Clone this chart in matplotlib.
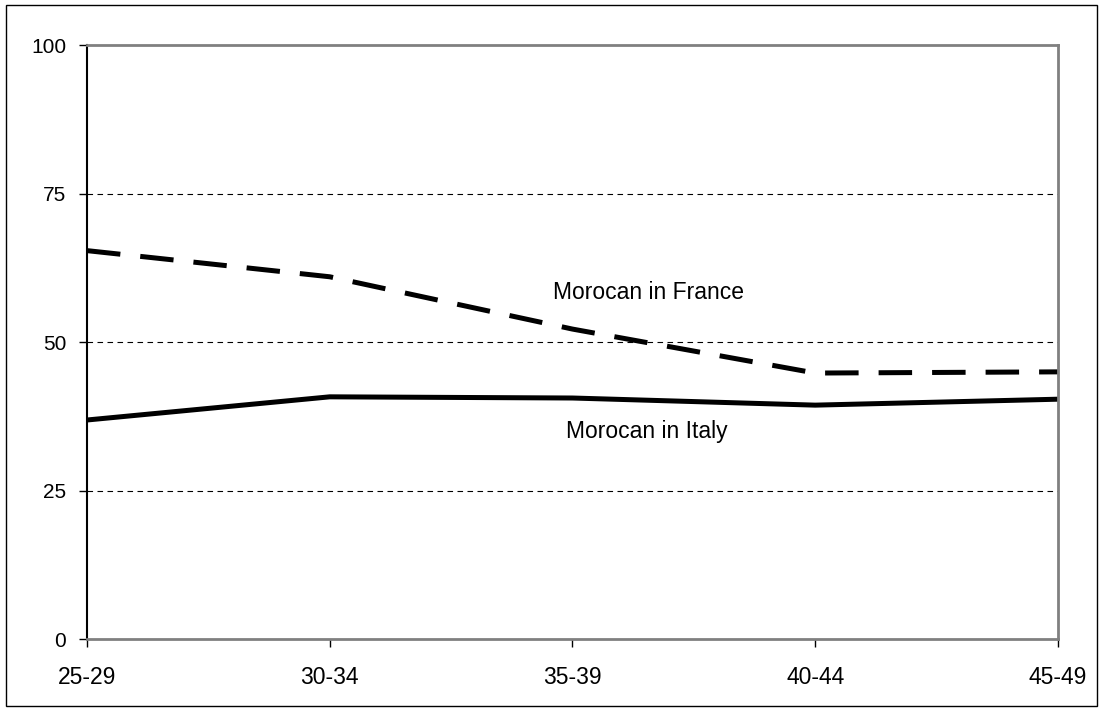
import matplotlib.pyplot as plt
import matplotlib.patches as mpatches

plt.rcParams['font.family'] = ['Liberation Sans', 'DejaVu Sans']

# datos
grupos = ["25-29", "30-34", "35-39", "40-44", "45-49"]
francia = [65.4, 61.0, 52.2, 44.8, 45.0]
italia = [36.9, 40.8, 40.6, 39.4, 40.4]
yticks = [0, 25, 50, 75, 100]

fig = plt.figure(figsize=(11.03, 7.10), dpi=100)
ax = fig.add_axes([0.0789, 0.0996, 0.8802, 0.837])

x = list(range(len(grupos)))
ax.plot(x, francia, color='black', linewidth=3.6, dashes=(6.7, 4.0), solid_joinstyle='miter')
ax.plot(x, italia, color='black', linewidth=3.6, solid_joinstyle='miter')

ax.set_xlim(0, len(grupos) - 1)
ax.set_ylim(0, 100)
ax.set_xticks(x)
ax.set_xticklabels(grupos, fontsize=16.5)
ax.set_yticks(yticks)
ax.set_yticklabels([str(v) for v in yticks], fontsize=15)
ax.tick_params(axis='both', direction='out', length=6, width=1, color='black')
ax.tick_params(axis='x', pad=13)
ax.tick_params(axis='y', pad=9)

# lineas de cuadricula discontinuas
for v in yticks[1:-1]:
    ax.axhline(v, color='black', linewidth=0.8, linestyle=(0, (5, 4)), zorder=0)

ax.spines['left'].set_color('black')
ax.spines['left'].set_linewidth(1.5)
for s in ['top', 'right', 'bottom']:
    ax.spines[s].set_color('#808080')
    ax.spines[s].set_linewidth(2)

ax.text(2.315, 57.2, "Morocan in France", fontsize=16.5, ha='center', va='baseline')
ax.text(2.305, 33.9, "Morocan in Italy", fontsize=16.5, ha='center', va='baseline')

# marco exterior
fig.patches.append(mpatches.Rectangle((0.005, 0.005), 0.99, 0.988, transform=fig.transFigure,
                                      fill=False, edgecolor='black', linewidth=1))

fig.savefig("out.png", dpi=100)
